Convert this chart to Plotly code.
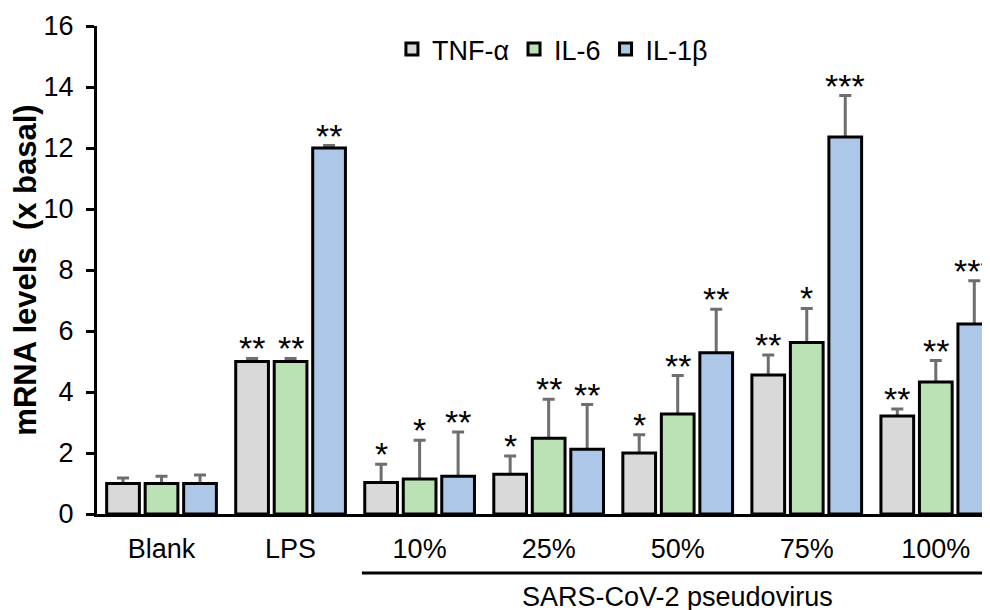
import plotly.graph_objects as go

# ---- data ----
categories = ["Blank", "LPS", "10%", "25%", "50%", "75%", "100%"]
series_names = ["TNF-α", "IL-6", "IL-1β"]
tnf = [1.0, 5.0, 1.03, 1.30, 2.0, 4.56, 3.21]
tnf_err = [0.18, 0.10, 0.60, 0.60, 0.60, 0.65, 0.23]
il6 = [1.0, 5.0, 1.15, 2.48, 3.28, 5.62, 4.33]
il6_err = [0.24, 0.10, 1.27, 1.28, 1.26, 1.12, 0.70]
il1b = [1.0, 12.0, 1.24, 2.12, 5.29, 12.36, 6.23]
il1b_err = [0.28, 0.08, 1.45, 1.47, 1.42, 1.36, 1.42]
tnf_sig = ["", "**", "*", "*", "*", "**", "**"]
il6_sig = ["", "**", "*", "**", "**", "*", "**"]
il1b_sig = ["", "**", "**", "**", "**", "***", "***"]
y_ticks = [0, 2, 4, 6, 8, 10, 12, 14, 16]

# ---- style ----
FONT = "Liberation Sans, Arial, sans-serif"
fills = ["#D9D9D9", "#BBE2B4", "#ADC7E8"]
ERR_COLOR = "#6E6E6E"
# the html page body has an 8px margin, so the figure is 8px smaller than the window
W, H = 982, 602
ML, MR, MT, MB = 89, 0, 18, 96
X_RANGE = [-0.5, 6.42]
BARGAP = 0.105
BARGROUPGAP = 0.15

values = [tnf, il6, il1b]
errors = [tnf_err, il6_err, il1b_err]
sigs = [tnf_sig, il6_sig, il1b_sig]

fig = go.Figure()
for j in range(3):
    # error bars (drawn first; lower half hidden behind the bar drawn on top)
    fig.add_trace(go.Bar(
        x=categories, y=values[j], offsetgroup=str(j), showlegend=False,
        marker=dict(color="rgba(0,0,0,0)", line=dict(width=0)),
        error_y=dict(type="data", array=errors[j], symmetric=True,
                     color=ERR_COLOR, thickness=3, width=6),
        hoverinfo="skip",
    ))
    fig.add_trace(go.Bar(
        x=categories, y=values[j], name=series_names[j], offsetgroup=str(j),
        marker=dict(color=fills[j], line=dict(color="black", width=3)),
    ))

# significance stars above the error caps
px_per_unit = (W - ML - MR) / (X_RANGE[1] - X_RANGE[0])
slot_px = px_per_unit * (1 - BARGAP) / 3
for j in range(3):
    for i, c in enumerate(categories):
        if sigs[j][i]:
            fig.add_annotation(
                x=c, y=values[j][i] + errors[j][i], xref="x", yref="y",
                text=sigs[j][i], showarrow=False, xanchor="center",
                yanchor="bottom", xshift=(j - 1) * slot_px, yshift=-11,
                font=dict(family=FONT, size=34, color="black"),
            )

# bracket line + label under the pseudovirus groups
half = (1 - BARGAP) / 2
fig.add_shape(type="line", xref="x", yref="paper",
              x0=categories.index("10%") - half, x1=categories.index("100%") + half,
              y0=-0.121, y1=-0.121, line=dict(color="black", width=3))
fig.add_annotation(x=categories.index("50%"), xref="x", y=-0.170, yref="paper",
                   text="SARS-CoV-2 pseudovirus", showarrow=False,
                   yanchor="middle", font=dict(family=FONT, size=27, color="black"))

fig.update_layout(
    width=W, height=H,
    margin=dict(l=ML, r=MR, t=MT, b=MB, autoexpand=False),
    paper_bgcolor="white", plot_bgcolor="white",
    barmode="group", bargap=BARGAP, bargroupgap=BARGROUPGAP,
    font=dict(family=FONT, size=27, color="black"),
    showlegend=True,
    legend=dict(orientation="h", x=0.51, xanchor="center", y=0.952,
                yanchor="middle", font=dict(family=FONT, size=27),
                bgcolor="rgba(0,0,0,0)", itemclick=False),
    xaxis=dict(type="category", range=X_RANGE, showline=True, linecolor="black",
               linewidth=3, ticks="", showgrid=False, zeroline=False,
               tickfont=dict(family=FONT, size=27), ticklabelstandoff=9),
    yaxis=dict(range=[0, 16], tickvals=y_ticks, showline=True, linecolor="black",
               linewidth=3, ticks="outside", ticklen=8, tickwidth=2.5,
               tickcolor="black", showgrid=False, zeroline=False,
               tickfont=dict(family=FONT, size=27), ticklabelstandoff=7,
               title=dict(text="mRNA levels\u00a0\u00a0(x basal)",
                          font=dict(family=FONT, size=31, weight="bold"),
                          standoff=2)),
)

fig.write_html("out.html")
